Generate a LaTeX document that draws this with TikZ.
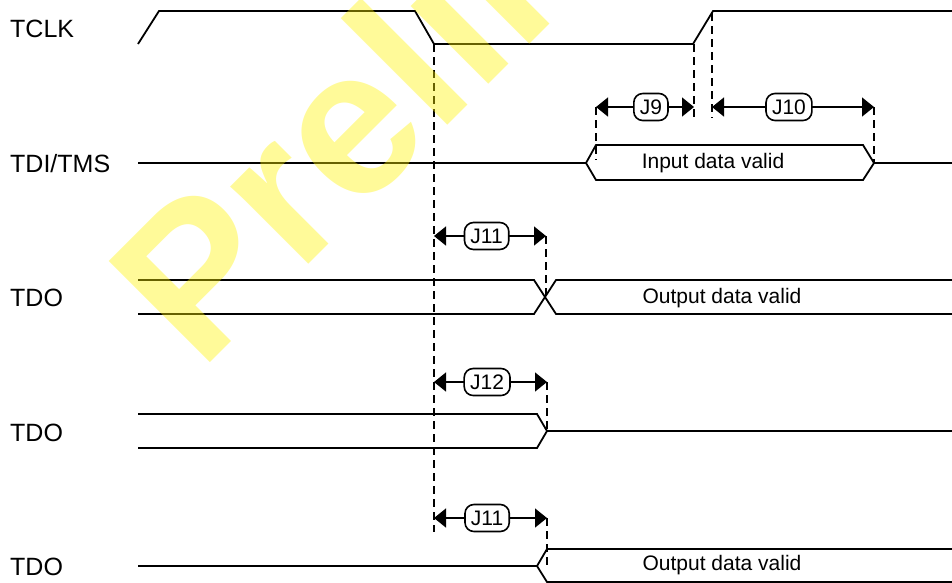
\documentclass[tikz,border=0pt]{standalone}
\usepackage{fontspec}
\setmainfont{Liberation Sans}
\usetikzlibrary{arrows.meta}
\tikzset{>={Triangle[length=12pt, width=19pt]}}
\tikzset{
  wave/.style={line width=1.8pt},
  guide/.style={line width=1.6pt, dash pattern=on 8pt off 5pt},
  sig/.style={anchor=base west, inner sep=0pt, font=\fontsize{25}{30}\selectfont},
  tlabel/.style={draw, fill=white, rounded corners=9pt, line width=1.6pt, minimum height=27pt, inner xsep=6pt, inner ysep=0pt, font=\fontsize{21}{25}\selectfont},
  datatext/.style={anchor=base, inner sep=0pt, font=\fontsize{21}{25}\selectfont}
}

\begin{document}
\begin{tikzpicture}[x=1pt, y=-1pt]
    \useasboundingbox(0,0)rectangle(952,582);
    \node(tclk)at(10, 37)[sig]{TCLK};
    \node(tdi)at(10, 172)[sig]{TDI/TMS};
    \node(tdoa)at(10, 306)[sig]{TDO};
    \node(tdob)at(10, 441)[sig]{TDO};
    \node(tdoc)at(10, 575)[sig]{TDO};
    \draw[wave](138, 44)--(159, 11)--(415, 11)--(434, 44)--(693, 44)--(713, 11)--(952, 11);
    \draw[wave](138, 163)--(586, 163)--(596, 145)--(863, 145)--(874, 163)--(952, 163);
    \draw[wave](586, 163)--(596, 180)--(863, 180)--(874, 163);
    \draw[wave](138, 280)--(534, 280)--(556, 314)--(952, 314);
    \draw[wave](138, 314)--(534, 314)--(556, 280)--(952, 280);
    \draw[wave](138, 414)--(537, 414)--(547, 431)--(537, 448)--(138, 448);
    \draw[wave](547, 431)--(952, 431);
    \draw[wave](138, 566)--(537, 566)--(547, 549)--(952, 549);
    \draw[wave](537, 566)--(547, 582)--(952, 582);
    \node(indata)at(713, 168)[datatext]{Input data valid};
    \node(outa)at(722, 303)[datatext]{Output data valid};
    \node(outc)at(722, 570)[datatext]{Output data valid};
    \coordinate(fall)at(434, 44);
    \coordinate(risea)at(694, 44);
    \coordinate(riseb)at(712, 13);
    \coordinate(fallend)at(434, 532);
    \coordinate(j9l)at(596, 107);
    \coordinate(j9r)at(694, 107);
    \coordinate(j10l)at(712, 107);
    \coordinate(j10r)at(874, 107);
    \coordinate(dinl)at(596, 160);
    \coordinate(dinr)at(874, 163);
    \coordinate(j11l)at(434, 236);
    \coordinate(j11r)at(546, 236);
    \coordinate(xa)at(546, 297);
    \coordinate(j12l)at(434, 382);
    \coordinate(j12r)at(547, 382);
    \coordinate(xb)at(547, 431);
    \coordinate(j13l)at(434, 518);
    \coordinate(j13r)at(547, 518);
    \coordinate(xc)at(547, 566);
    \draw[guide](fall)--(fallend);
    \draw[guide](risea)--(j9r|-0,118);
    \draw[guide](riseb)--(j10l|-0,118);
    \draw[guide](j9l)--(dinl);
    \draw[guide](j10r)--(dinr);
    \draw[guide](j11r)--(xa);
    \draw[guide](j12r)--(xb);
    \draw[guide](j13r)--(xc);
    \draw[<->, line width=1.5pt](j9l)--(j9r)node[tlabel, pos=0.56]{J9};
    \draw[<->, line width=1.5pt](j10l)--(j10r)node[tlabel, pos=0.475]{J10};
    \draw[<->, line width=1.5pt](j11l)--(j11r)node[tlabel, pos=0.47]{J11};
    \draw[<->, line width=1.5pt](j12l)--(j12r)node[tlabel, pos=0.47]{J12};
    \draw[<->, line width=1.5pt](j13l)--(j13r)node[tlabel, pos=0.47]{J11};
    \begin{scope}
        \clip(0,0)rectangle(952,582);
        \node(mark)at(200, 373)[anchor=base west, rotate=45, inner sep=0pt, text=yellow, text opacity=0.4, font=\bfseries\fontsize{208}{208}\selectfont]{Preliminary};
    \end{scope}
\end{tikzpicture}
\end{document}
